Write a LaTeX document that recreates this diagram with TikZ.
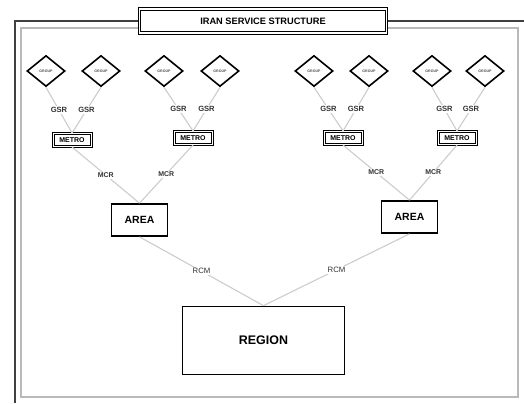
\documentclass[tikz,border=0pt]{standalone}
\usepackage{fontspec}
\setmainfont{Liberation Sans}
\usetikzlibrary{shapes.geometric}
\tikzset{
    groupbox/.style={draw, diamond, line width=1.6bp, inner sep=0pt, minimum width=38bp, minimum height=31bp, font=\fontsize{3.6}{4}\selectfont\bfseries, text=black!70},
    metrobox/.style={draw, double, line width=1bp, double distance=1bp, minimum width=38bp, minimum height=13bp, inner sep=0pt, font=\fontsize{7}{8}\selectfont\bfseries},
    areabox/.style={draw, line width=1.7bp, minimum width=56bp, minimum height=32bp, inner sep=0pt, font=\fontsize{10.5}{12}\selectfont\bfseries},
    linklabel/.style={fill=white, inner sep=1pt, text=black!80},
}
\begin{document}
\begin{tikzpicture}[x=1bp,y=-1bp]
        \useasboundingbox (0,0) rectangle (524,403);
        % frame
        \draw[gray!55, line width=1.2bp] (21,28) rectangle (518,397);
        \draw[black!75, line width=2bp] (14.5,403) -- (14.5,21) -- (524,21);
        \node[draw, double, line width=1bp, double distance=1.6bp, fill=white, minimum width=247bp, minimum height=24bp, inner sep=0pt, font=\fontsize{9.3}{11}\selectfont\bfseries] (T) at (263,21) {IRAN SERVICE STRUCTURE};
        \begin{scope}[every node/.style={groupbox}]
            \node (G1) at (46,71) {GROUP};
            \node (G2) at (101,71) {GROUP};
            \node (G3) at (164,71) {GROUP};
            \node (G4) at (220,71) {GROUP};
            \node (G5) at (314,71) {GROUP};
            \node (G6) at (369,71) {GROUP};
            \node (G7) at (432,71) {GROUP};
            \node (G8) at (485,71) {GROUP};
        \end{scope}
        \begin{scope}[every node/.style={metrobox}]
            \node (M1) at (72,140) {METRO};
            \node (M2) at (193,138) {METRO};
            \node (M3) at (343,138) {METRO};
            \node (M4) at (457,138) {METRO};
        \end{scope}
        \begin{scope}[every node/.style={areabox}]
            \node (A1) at (139.5,220) {AREA};
            \node (A2) at (409.5,217) {AREA};
            \node[minimum width=162bp, minimum height=68bp, font=\fontsize{12.5}{14}\selectfont\bfseries] (R) at (263.5,340.5) {REGION};
        \end{scope}
        \begin{scope}[every edge/.style={draw=gray!40, line width=1.1bp},
                      every node/.style={linklabel, font=\fontsize{7.6}{9}\selectfont\bfseries}]
            \path (G1.south) edge node {GSR} (M1.north);
            \path (G2.south) edge node {GSR} (M1.north);
            \path (G3.south) edge node {GSR} (M2.north);
            \path (G4.south) edge node {GSR} (M2.north);
            \path (G5.south) edge node {GSR} (M3.north);
            \path (G6.south) edge node {GSR} (M3.north);
            \path (G7.south) edge node {GSR} (M4.north);
            \path (G8.south) edge node {GSR} (M4.north);
        \end{scope}
        \begin{scope}[every edge/.style={draw=gray!40, line width=1.1bp},
                      every node/.style={linklabel, font=\fontsize{7}{8}\selectfont\bfseries}]
            \path (M1.south) edge node {MCR} (A1.north);
            \path (M2.south) edge node {MCR} (A1.north);
            \path (M3.south) edge node {MCR} (A2.north);
            \path (M4.south) edge node {MCR} (A2.north);
            \path (A1.south) edge node[font=\fontsize{7.8}{9}\selectfont] {RCM} (R.north);
            \path (A2.south) edge node[font=\fontsize{7.8}{9}\selectfont] {RCM} (R.north);
        \end{scope}
    \end{tikzpicture}
\end{document}
